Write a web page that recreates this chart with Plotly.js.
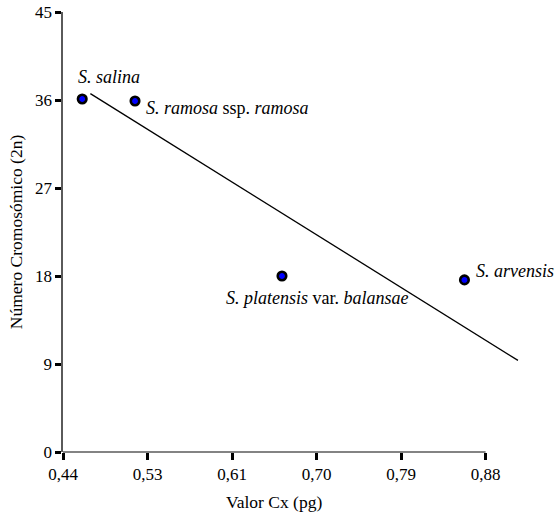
<!DOCTYPE html>
<html>
<head>
<meta charset="utf-8">
<script src="https://cdn.plot.ly/plotly-3.0.1.min.js"></script>
<style>html,body{margin:0;padding:0;background:#fff;}#chart{width:555px;height:517px;}</style>
</head>
<body>
<div id="chart"></div>
<script>
// Data
var species = ["<i>S. salina</i>", "<i>S. ramosa</i> ssp. <i>ramosa</i>", "<i>S. platensis</i> var. <i>balansae</i>", "<i>S. arvensis</i>"];
var cxValues = [0.460, 0.515, 0.668, 0.858];
var chromosomes = [36.1, 35.9, 18.0, 17.6];
var fitX = [0.4685, 0.9137];
var fitY = [36.65, 9.37];
var xTickVals = [0.44, 0.528, 0.616, 0.704, 0.792, 0.88];
var xTickText = ["0,44", "0,53", "0,61", "0,70", "0,79", "0,88"];
var yTickVals = [0, 9, 18, 27, 36, 45];

// label placement (style only)
var labelStyle = [
  {xanchor: "left", yanchor: "bottom", xshift: -6, yshift: 10},
  {xanchor: "left", yanchor: "middle", xshift: 9, yshift: -7},
  {xanchor: "center", yanchor: "top", xshift: 36, yshift: -10},
  {xanchor: "left", yanchor: "middle", xshift: 10, yshift: 9}
];

var FONT = "Liberation Serif, Times New Roman, serif";
var xRange = [0.44, 0.92];

var traces = [
  {
    x: fitX, y: fitY, type: "scatter", mode: "lines",
    line: {color: "#000", width: 1.3}, hoverinfo: "skip", showlegend: false
  },
  {
    x: cxValues, y: chromosomes, type: "scatter", mode: "markers",
    marker: {color: "#0000ff", size: 8.5, line: {color: "#000", width: 2.6}},
    showlegend: false, cliponaxis: false
  }
];

var annotations = species.map(function (s, i) {
  var st = labelStyle[i];
  return {
    x: cxValues[i], y: chromosomes[i], xref: "x", yref: "y",
    text: s, showarrow: false,
    xanchor: st.xanchor, yanchor: st.yanchor, xshift: st.xshift, yshift: st.yshift,
    font: {family: FONT, size: 18, color: "#000"}
  };
});

// x axis title centred under the drawn axis (0.44 - 0.88)
var axisEndPaper = (xTickVals[xTickVals.length - 1] - xRange[0]) / (xRange[1] - xRange[0]);
annotations.push({
  x: axisEndPaper / 2, y: -0.113, xref: "paper", yref: "paper",
  text: "Valor Cx (pg)", showarrow: false, xanchor: "center", yanchor: "middle",
  font: {family: FONT, size: 17.5, color: "#000"}
});

var layout = {
  width: 555, height: 517,
  margin: {l: 63, r: 31, t: 12, b: 65},
  paper_bgcolor: "#fff", plot_bgcolor: "#fff",
  font: {family: FONT, size: 17, color: "#000"},
  xaxis: {
    range: xRange, tickvals: xTickVals, ticktext: xTickText,
    showgrid: false, zeroline: false, showline: false,
    ticks: "outside", ticklen: 7, tickwidth: 3, tickcolor: "#000",
    tickfont: {family: FONT, size: 17, color: "#000"}
  },
  yaxis: {
    range: [0, 45], tickvals: yTickVals,
    showgrid: false, zeroline: false, showline: true, linecolor: "#5a5a5a", linewidth: 1.6,
    ticks: "outside", ticklen: 6, tickwidth: 3, tickcolor: "#000",
    tickfont: {family: FONT, size: 17, color: "#000"},
    title: {text: "Número Cromosómico (2n)", font: {family: FONT, size: 17.5, color: "#000"}, standoff: 8}
  },
  shapes: [{
    type: "line", xref: "paper", yref: "paper",
    x0: 0, x1: axisEndPaper, y0: 0, y1: 0,
    line: {color: "#5a5a5a", width: 1.6}, layer: "below"
  }],
  annotations: annotations
};

Plotly.newPlot("chart", traces, layout, {displayModeBar: false, staticPlot: true});
</script>
</body>
</html>
